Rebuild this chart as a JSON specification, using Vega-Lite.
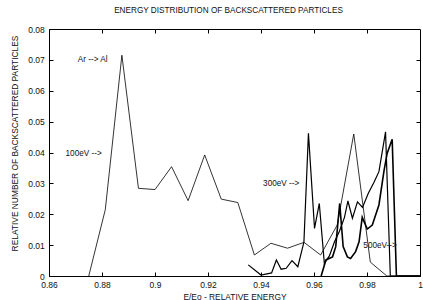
{
  "$schema": "https://vega.github.io/schema/vega-lite/v6.json",
  "width": 371,
  "height": 247,
  "autosize": {"type": "none"},
  "padding": {"left": 49, "top": 29, "right": 3, "bottom": 24},
  "background": "white",
  "title": {
    "text": "ENERGY DISTRIBUTION OF BACKSCATTERED PARTICLES",
    "fontSize": 8.2,
    "fontWeight": "normal",
    "font": "Liberation Sans",
    "color": "#111",
    "offset": 10,
    "dx": -6
  },
  "config": {
    "font": "Liberation Sans",
    "view": {"stroke": "black", "strokeWidth": 1},
    "axis": {
      "grid": false,
      "domainColor": "black",
      "tickColor": "black",
      "labelColor": "#111",
      "titleColor": "#111",
      "labelFontSize": 8.5,
      "titleFontSize": 8.4,
      "titleFontWeight": "normal",
      "labelFont": "Liberation Sans",
      "titleFont": "Liberation Sans",
      "tickSize": -4
    }
  },
  "datasets": {
    "lines": [
      {"series": "100eV", "x": 0.875, "y": 0},
      {"series": "100eV", "x": 0.88125, "y": 0.0215},
      {"series": "100eV", "x": 0.8875, "y": 0.0715},
      {"series": "100eV", "x": 0.89375, "y": 0.0284},
      {"series": "100eV", "x": 0.9, "y": 0.028},
      {"series": "100eV", "x": 0.90625, "y": 0.0354},
      {"series": "100eV", "x": 0.9125, "y": 0.0244},
      {"series": "100eV", "x": 0.91875, "y": 0.0392},
      {"series": "100eV", "x": 0.925, "y": 0.0249},
      {"series": "100eV", "x": 0.93125, "y": 0.0238},
      {"series": "100eV", "x": 0.9375, "y": 0.0068},
      {"series": "100eV", "x": 0.94375, "y": 0.0106},
      {"series": "100eV", "x": 0.95, "y": 0.009},
      {"series": "100eV", "x": 0.95625, "y": 0.0109},
      {"series": "100eV", "x": 0.9625, "y": 0.0068},
      {"series": "100eV", "x": 0.96875, "y": 0.0165},
      {"series": "100eV", "x": 0.975, "y": 0.046},
      {"series": "100eV", "x": 0.98125, "y": 0.0045},
      {"series": "100eV", "x": 0.9875, "y": 0},
      {"series": "100eV", "x": 1.0, "y": 0},
      {"series": "300eV", "x": 0.9352, "y": 0.0036},
      {"series": "300eV", "x": 0.94, "y": 0.0003},
      {"series": "300eV", "x": 0.944, "y": 0.001},
      {"series": "300eV", "x": 0.9458, "y": 0.0052},
      {"series": "300eV", "x": 0.9476, "y": 0.0022},
      {"series": "300eV", "x": 0.9495, "y": 0.0025},
      {"series": "300eV", "x": 0.9517, "y": 0.005},
      {"series": "300eV", "x": 0.9539, "y": 0.003},
      {"series": "300eV", "x": 0.9562, "y": 0.011},
      {"series": "300eV", "x": 0.9579, "y": 0.0462},
      {"series": "300eV", "x": 0.9602, "y": 0.0154},
      {"series": "300eV", "x": 0.962, "y": 0.0235},
      {"series": "300eV", "x": 0.9639, "y": 0.0041},
      {"series": "300eV", "x": 0.9658, "y": 0.0065},
      {"series": "300eV", "x": 0.9677, "y": 0.011},
      {"series": "300eV", "x": 0.9696, "y": 0.0145},
      {"series": "300eV", "x": 0.9715, "y": 0.019},
      {"series": "300eV", "x": 0.9728, "y": 0.0243},
      {"series": "300eV", "x": 0.9745, "y": 0.0187},
      {"series": "300eV", "x": 0.9764, "y": 0.024},
      {"series": "300eV", "x": 0.9783, "y": 0.0222},
      {"series": "300eV", "x": 0.9805, "y": 0.0268},
      {"series": "300eV", "x": 0.9826, "y": 0.0303},
      {"series": "300eV", "x": 0.9845, "y": 0.0338},
      {"series": "300eV", "x": 0.987, "y": 0.0467},
      {"series": "300eV", "x": 0.9888, "y": 0},
      {"series": "300eV", "x": 1.0, "y": 0},
      {"series": "500eV", "x": 0.9627, "y": 0},
      {"series": "500eV", "x": 0.9645, "y": 0.0052},
      {"series": "500eV", "x": 0.967, "y": 0.0062},
      {"series": "500eV", "x": 0.9682, "y": 0.0095},
      {"series": "500eV", "x": 0.9697, "y": 0.0235},
      {"series": "500eV", "x": 0.971, "y": 0.0095},
      {"series": "500eV", "x": 0.9726, "y": 0.0062},
      {"series": "500eV", "x": 0.9738, "y": 0.0057},
      {"series": "500eV", "x": 0.9757, "y": 0.0079},
      {"series": "500eV", "x": 0.977, "y": 0.0111},
      {"series": "500eV", "x": 0.9782, "y": 0.019},
      {"series": "500eV", "x": 0.9801, "y": 0.0152},
      {"series": "500eV", "x": 0.982, "y": 0.0165},
      {"series": "500eV", "x": 0.9845, "y": 0.023},
      {"series": "500eV", "x": 0.9864, "y": 0.034},
      {"series": "500eV", "x": 0.9876, "y": 0.0397},
      {"series": "500eV", "x": 0.9895, "y": 0.0443},
      {"series": "500eV", "x": 0.9911, "y": 0},
      {"series": "500eV", "x": 1.0, "y": 0}
    ],
    "labels": [
      {"label": "Ar --> Al", "x": 0.87086, "y": 0.0699},
      {"label": "100eV -->", "x": 0.86625, "y": 0.0395},
      {"label": "300eV -->", "x": 0.94079, "y": 0.0299},
      {"label": "500eV-->", "x": 0.97862, "y": 0.0096}
    ]
  },
  "layer": [
    {
      "data": {"name": "lines"},
      "mark": {"type": "line", "color": "black", "clip": true},
      "encoding": {
        "x": {
          "field": "x", "type": "quantitative",
          "scale": {"domain": [0.86, 1.0], "nice": false, "zero": false},
          "axis": {
            "orient": "bottom",
            "values": [0.86, 0.88, 0.9, 0.92, 0.94, 0.96, 0.98, 1.0],
            "format": ".2~f",
            "labelPadding": 8,
            "labelFlush": false,
            "title": "E/Eo - RELATIVE ENERGY",
            "titlePadding": 4
          }
        },
        "y": {
          "field": "y", "type": "quantitative",
          "scale": {"domain": [0, 0.08], "nice": false},
          "axis": {
            "orient": "left",
            "values": [0, 0.01, 0.02, 0.03, 0.04, 0.05, 0.06, 0.07, 0.08],
            "format": ".2~f",
            "labelPadding": 8.7,
            "labelFlush": false,
            "title": "RELATIVE NUMBER OF BACKSCATTERED PARTICLES",
            "titlePadding": 8,
            "titleY": 114
          }
        },
        "detail": {"field": "series"},
        "strokeWidth": {
          "field": "series", "type": "nominal",
          "scale": {"domain": ["100eV", "300eV", "500eV"], "range": [0.8, 1.6, 2.3]},
          "legend": null
        }
      }
    },
    {
      "data": {"name": "labels"},
      "mark": {"type": "text", "align": "left", "baseline": "middle", "fontSize": 8.2, "font": "Liberation Sans", "color": "#111"},
      "encoding": {
        "x": {
          "field": "x", "type": "quantitative",
          "scale": {"domain": [0.86, 1.0], "nice": false, "zero": false},
          "axis": {
            "orient": "top",
            "values": [0.88, 0.9, 0.92, 0.94, 0.96, 0.98],
            "labels": false,
            "domain": false,
            "title": null
          }
        },
        "y": {
          "field": "y", "type": "quantitative",
          "scale": {"domain": [0, 0.08], "nice": false},
          "axis": {
            "orient": "right",
            "values": [0.01, 0.02, 0.03, 0.04, 0.05, 0.06, 0.07],
            "labels": false,
            "domain": false,
            "title": null
          }
        },
        "text": {"field": "label"}
      }
    }
  ],
  "resolve": {"axis": {"x": "independent", "y": "independent"}}
}
